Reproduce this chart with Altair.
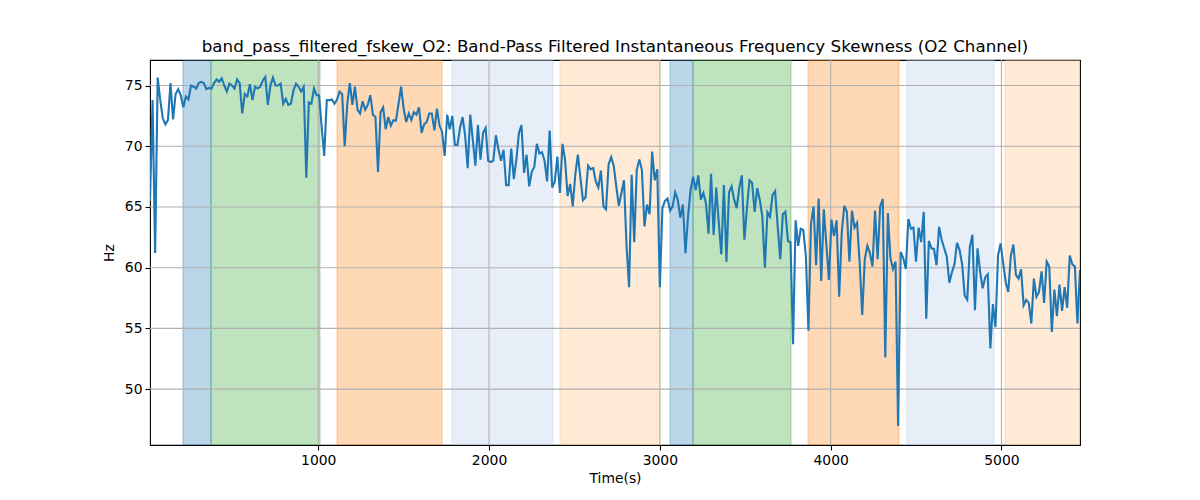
import altair as alt
import pandas as pd

# ---- series values (Hz), in time order ----
seg_a = [65.5, 73.8, 61.2, 75.65, 73.8, 72.3, 71.8, 72.15, 75.2, 72.2,
         74.3, 74.7, 74.2, 73.2, 74.1, 73.85, 75.0, 74.9, 74.75, 75.2,
         75.3, 75.2, 74.7, 74.8, 74.75, 75.2, 75.5, 75.3, 75.6, 75.0,
         74.5, 75.15, 75.0, 74.75, 75.5, 75.2, 72.7, 74.3, 74.1, 75.1,
         73.8, 74.9, 74.75, 74.9, 75.4, 75.7, 73.4, 75.0, 75.65, 75.0,
         75.0, 75.15, 73.5, 73.9, 73.4, 73.5, 74.6, 75.15, 74.9, 74.5, 74.9]
seg_b = [67.4, 73.6, 73.5, 74.75, 74.2, 74.2, 71.6, 69.2, 73.8, 73.8,
         73.85, 73.5, 73.85, 74.5, 74.3, 70.0, 73.5, 75.2, 73.4, 74.9,
         73.0, 72.7, 73.7, 73.0, 73.4, 74.2, 72.6, 72.4, 67.86, 72.8,
         73.2, 71.4, 72.4, 71.7, 72.15, 72.1, 73.5, 74.9, 73.1, 72.0,
         72.7, 72.15, 72.8, 72.6, 73.2, 71.1, 71.8, 72.0, 72.7, 72.7,
         71.3, 73.1, 71.7, 71.2, 69.2, 72.6, 71.4, 72.5, 70.1, 70.1, 71.5, 72.4]
seg_c = [70.9, 68.2, 72.6, 70.5, 68.4, 71.75, 68.9, 71.1, 71.5, 68.8,
         68.7, 68.8, 70.9, 69.75, 68.8, 69.7, 66.8, 66.8, 69.8, 67.3,
         68.9, 71.1, 71.75, 67.8, 69.3, 66.7, 67.9, 68.3, 70.2, 69.4,
         69.5, 68.8, 67.1, 71.3, 66.6, 67.1, 69.15, 66.15, 70.2, 68.9,
         65.9, 66.9, 65.05, 67.65, 69.3, 67.4, 65.55, 65.8, 68.4, 68.1,
         68.2, 67.1, 66.6, 68.0, 65.05, 64.8, 68.5, 69.1, 68.4, 66.7]
seg_d = [65.1, 66.15, 67.2, 61.8, 58.4, 67.65, 62.1, 68.06, 68.9, 68.06,
         63.4, 65.2, 64.4, 69.56, 67.2, 68.1, 58.4, 64.9, 65.5, 65.7,
         64.7, 65.05, 66.2, 65.6, 64.1, 65.2, 61.2, 64.2, 66.4, 67.5,
         66.4, 67.6, 65.6, 66.15, 65.3, 62.8, 67.73, 62.7, 66.6, 63.7,
         61.1, 66.8, 60.5, 66.2, 66.7, 65.6, 64.9, 66.56, 67.6, 62.3,
         64.9, 67.2, 67.0, 64.6, 66.56, 65.6, 64.2, 60.0, 64.56, 64.2, 66.0]
seg_e = [66.3, 63.4, 60.7, 64.4, 64.6, 62.2, 62.1, 53.7, 63.9, 61.8,
         63.2, 63.1, 60.96, 54.8, 63.6, 65.05, 60.2, 65.7, 58.9, 64.8,
         61.9, 59.0, 63.96, 62.6, 63.9, 57.6, 62.9, 65.1, 64.6, 60.5,
         64.7, 63.3, 63.7, 60.4, 56.1, 60.7, 61.8, 61.2, 60.1, 64.7,
         60.7, 65.05, 65.65, 52.6, 64.5, 60.8, 59.9, 60.5, 46.97, 61.3,
         60.8, 59.9, 64.0, 63.2, 63.3, 60.5, 63.3, 62.1, 64.6]
seg_f = [55.8, 62.2, 61.6, 61.55, 60.2, 63.36, 62.3, 61.6, 60.9, 58.77,
         59.6, 60.27, 62.05, 61.45, 60.27, 57.7, 57.35, 61.7, 62.7, 56.5,
         61.6, 59.7, 58.3, 59.2, 59.45, 53.36, 57.0, 55.1, 61.0, 62.0,
         60.4, 58.8, 58.0, 61.0, 61.9, 59.4, 59.1, 59.86, 56.9, 57.35,
         57.1, 55.4, 59.1, 57.6, 58.0, 59.7, 57.1, 60.5, 60.1, 54.7,
         58.2, 56.0, 58.6, 56.45, 58.4, 56.7, 61.0, 60.27, 60.1, 55.4, 59.8]

T0 = 15      # first sample time (s)
STEP = 15    # sampling interval (s)

# ---- shaded spans ----
band_start = [208, 372, 1110, 1783, 2415, 3060, 3194, 3868, 4447, 5021]
band_end   = [372, 1010, 1725, 2375, 3001, 3194, 3768, 4400, 4957, 5460]
band_color = ["#1f77b4", "#2ca02c", "#ff7f0e", "#aec7e8", "#ffbb78",
              "#1f77b4", "#2ca02c", "#ff7f0e", "#aec7e8", "#ffbb78"]

x_ticks = [1000, 2000, 3000, 4000, 5000]
y_ticks = [50, 55, 60, 65, 70, 75]
X_DOMAIN = [15, 5460]
Y_DOMAIN = [45.4, 77.1]

TITLE = "band_pass_filtered_fskew_O2: Band-Pass Filtered Instantaneous Frequency Skewness (O2 Channel)"

values = seg_a + seg_b + seg_c + seg_d + seg_e + seg_f
times = [T0 + STEP * i for i in range(len(values))]
df = pd.DataFrame({"t": times, "v": values})
bands = pd.DataFrame({"start": band_start, "end": band_end, "color": band_color})
xg = pd.DataFrame({"x": x_ticks})
yg = pd.DataFrame({"y": y_ticks})

xs = alt.Scale(domain=X_DOMAIN, nice=False, zero=False)
ys = alt.Scale(domain=Y_DOMAIN, nice=False, zero=False)
x_axis = alt.Axis(values=x_ticks, title="Time(s)", grid=False, format="d")
y_axis = alt.Axis(values=y_ticks, title="Hz", grid=False, format="d")

band_layer = alt.Chart(bands).mark_rect(
    fillOpacity=0.3, strokeOpacity=0.3, strokeWidth=1.3, clip=True
).encode(
    x=alt.X("start:Q", scale=xs, axis=x_axis),
    x2="end:Q",
    fill=alt.Fill("color:N", scale=None, legend=None),
    stroke=alt.Stroke("color:N", scale=None, legend=None),
)

xgrid = alt.Chart(xg).mark_rule(color="#b0b0b0", strokeWidth=1.1).encode(
    x=alt.X("x:Q", scale=xs, axis=x_axis)
)
ygrid = alt.Chart(yg).mark_rule(color="#b0b0b0", strokeWidth=1.1).encode(
    y=alt.Y("y:Q", scale=ys, axis=y_axis)
)

line = alt.Chart(df).mark_line(color="#1f77b4", strokeWidth=2.1, clip=True).encode(
    x=alt.X("t:Q", scale=xs, axis=x_axis),
    y=alt.Y("v:Q", scale=ys, axis=y_axis),
)

chart = alt.layer(band_layer, xgrid, ygrid, line).properties(
    width=930,
    height=385,
    autosize=alt.AutoSizeParams(type="none"),
    padding={"left": 142, "top": 52, "right": 100, "bottom": 40},
    title=alt.TitleParams(
        TITLE, font="DejaVu Sans", fontSize=16.7, fontWeight="normal",
        anchor="middle", offset=4, color="black",
    ),
).configure_view(
    stroke="black", strokeWidth=1.1
).configure_axis(
    domain=False,
    tickColor="black", tickSize=5, tickWidth=1.1,
    labelFont="DejaVu Sans", labelFontSize=13.9, labelColor="black", labelPadding=3,
    titleFont="DejaVu Sans", titleFontSize=13.9, titleFontWeight="normal", titleColor="black",
).configure_axisX(titlePadding=5).configure_axisY(titlePadding=8)

chart.save("out.html", embed_options={"renderer": "svg", "actions": False})
